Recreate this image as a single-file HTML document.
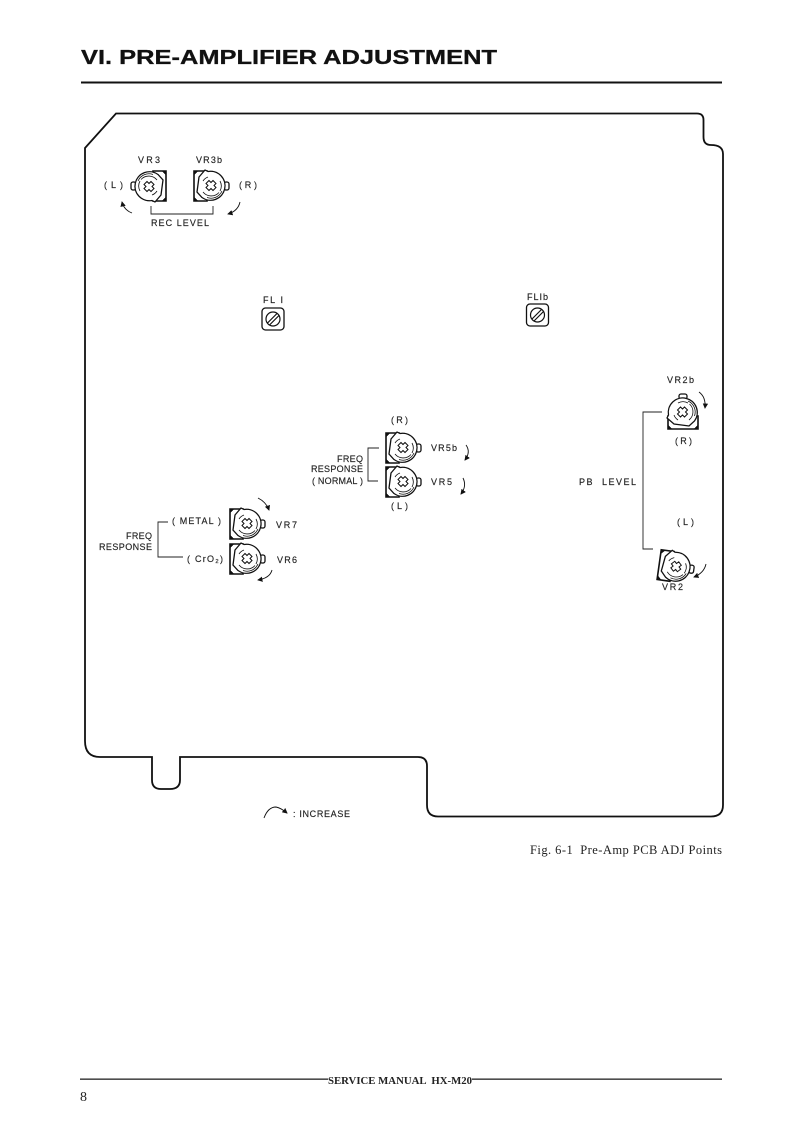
<!DOCTYPE html>
<html><head><meta charset="utf-8"><style>
html,body{margin:0;padding:0;background:#fff}
svg{display:block}
.l{font-family:"Liberation Sans",sans-serif;font-size:9px;fill:#222;stroke:#222;stroke-width:.15px}
.s{font-family:"Liberation Serif",serif;fill:#222}
</style></head><body>
<svg width="791" height="1122" viewBox="0 0 791 1122" xmlns="http://www.w3.org/2000/svg">
<defs>
<g id="pot" fill="none" stroke="#111">
<path d="M-17-15H-4V15H-17Z" fill="#fff" stroke-width="1.600"/>
<path d="M-17-15h4l-4 4zM-17 15h4l-4-4z" fill="#111" stroke-width=".5"/>
<rect x="13" y="-4" width="5" height="8" rx="2" fill="#fff" stroke-width="1.300"/>
<path d="M-12-9-6-16 -3-14.500A14.500 14.500 0 1 1 -9 11.500L-14 6Z" fill="#fff" stroke-width="1.300"/>
<path d="M-8-5A10 10 0 0 1 -3-9M-8 6A10.500 10.500 0 0 0 8 6.500M-4 11.500A12 12 0 0 0 11 5M9-5A10.500 10.500 0 0 1 9 5" stroke-width=".8"/>
<path d="M-2-5.500 0-3.500 2-5.500 5-2.500 3-.5 5 1.500 2 4.500 0 2.500-2 4.500-5 1.500-3-.5-5-2.500Z" stroke-width="1"/>
</g>
<g id="fl" fill="none" stroke="#111">
<rect x="-11" y="-11" width="22" height="22" rx="3.500" stroke-width="1.300"/>
<circle r="7" stroke-width="1.200"/>
<path d="M-5.500 4 4 -5.500M-3.500 6 6 -3.500" stroke-width="1.200"/>
</g>
<marker id="a" markerWidth="7" markerHeight="7" refX="5" refY="3" orient="auto"><path d="M0 0 6 3 0 6Z" fill="#111"/></marker>
</defs>

<text x="81" y="64" font-family="Liberation Sans,sans-serif" font-weight="700" font-size="20px" fill="#111" stroke="#111" stroke-width=".3" textLength="416" lengthAdjust="spacingAndGlyphs">VI. PRE-AMPLIFIER ADJUSTMENT</text>
<rect x="81" y="81.500" width="641" height="2" fill="#111"/>

<path d="M85 148 116 113.500H697Q703.500 113.500 703.500 120V137Q703.500 145 711 145Q723 145 723 154V805Q723 816.500 711 816.500H438Q427 816.500 427 805V766Q427 757 418 757H180V780Q180 789 170 789H161Q152 789 152 780V757H100Q85 757 85 741Z" fill="none" stroke="#111" stroke-width="1.800"/>

<g class="l">
<text x="138" y="163" textLength="22">VR3</text><text x="196" y="163" textLength="26">VR3b</text>
<text x="104" y="188" textLength="19">(L)</text><text x="239" y="188" textLength="18">(R)</text>
<text x="151" y="226" textLength="58">REC LEVEL</text>
<text x="263" y="303" textLength="20">FL I</text><text x="527" y="300" textLength="21">FLIb</text>
<text x="391" y="423" textLength="17">(R)</text><text x="391" y="509" textLength="17">(L)</text>
<text x="431" y="451" textLength="26">VR5b</text><text x="431" y="485" textLength="21">VR5</text>
<text x="337" y="462" textLength="26">FREQ</text><text x="311" y="472" textLength="52">RESPONSE</text><text x="312" y="484" textLength="51">( NORMAL )</text>
<text x="126" y="539" textLength="26">FREQ</text><text x="99" y="550" textLength="53">RESPONSE</text>
<text x="172" y="524" textLength="49">( METAL )</text><text x="187" y="562" textLength="36">( CrO₂)</text>
<text x="276" y="528" textLength="21">VR7</text><text x="277" y="563" textLength="20">VR6</text>
<text x="667" y="383" textLength="27">VR2b</text><text x="675" y="444" textLength="17">(R)</text>
<text x="677" y="525" textLength="17">(L)</text><text x="662" y="590" textLength="21">VR2</text>
<text x="579" y="485" textLength="57" xml:space="preserve">PB  LEVEL</text>
<text x="293" y="817" textLength="57">: INCREASE</text>
</g>

<g fill="none" stroke="#222" stroke-width=".9">
<path d="M151 206V214H213V206"/>
<path d="M379 448H368V481H378"/>
<path d="M168 522H158V557H183"/>
<path d="M662 412H643V549H653"/>
</g>
<g fill="none" stroke="#111" stroke-width=".9">
<path d="M132 213Q124 210 122 202" marker-end="url(#a)"/>
<path d="M240 202Q238 211 228 214" marker-end="url(#a)"/>
<path d="M466 445Q471 452 465 460" marker-end="url(#a)"/>
<path d="M463 478Q467 486 461 494" marker-end="url(#a)"/>
<path d="M258 498Q266 502 269 510" marker-end="url(#a)"/>
<path d="M272 570Q270 578 258 580" marker-end="url(#a)"/>
<path d="M699 392Q706 397 705 408" marker-end="url(#a)"/>
<path d="M706 564Q704 573 694 577" marker-end="url(#a)"/>
<path d="M264 818Q268 807 276 807Q281 808 287 813" marker-end="url(#a)"/>
</g>

<use href="#pot" transform="translate(149 186) rotate(180)"/>
<use href="#pot" transform="translate(211 186)"/>
<use href="#pot" transform="translate(403 448)"/>
<use href="#pot" transform="translate(403 482)"/>
<use href="#pot" transform="translate(247 524)"/>
<use href="#pot" transform="translate(247 559)"/>
<use href="#pot" transform="translate(683 412) rotate(-90)"/>
<use href="#pot" transform="translate(676 567) rotate(8)"/>
<use href="#fl" transform="translate(273 319)"/>
<use href="#fl" transform="translate(537.500 315)"/>

<text class="s" x="530" y="854" font-size="12.500px" textLength="192" xml:space="preserve">Fig. 6-1  Pre-Amp PCB ADJ Points</text>
<rect x="80" y="1078.500" width="248" height="1.300" fill="#222"/>
<rect x="472" y="1078.500" width="250" height="1.300" fill="#222"/>
<text class="s" x="328" y="1084" font-size="10.500px" font-weight="700" textLength="144" lengthAdjust="spacingAndGlyphs" xml:space="preserve">SERVICE MANUAL  HX-M20</text>
<text class="s" x="80" y="1101" font-size="14px">8</text>
</svg>
</body></html>
